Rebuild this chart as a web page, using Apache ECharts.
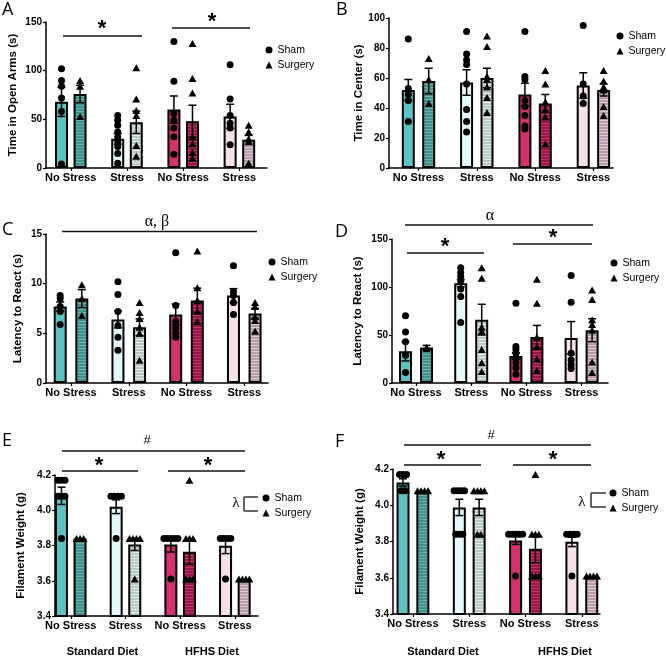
<!DOCTYPE html>
<html lang="en">
<head>
<meta charset="UTF-8">
<title>Behaviour panels</title>
<script src="https://cdn.jsdelivr.net/npm/echarts@6/dist/echarts.min.js"></script>
<style>
  html, body { margin: 0; background: #fff; }
  #main { width: 666px; height: 657px; }
</style>
</head>
<body>
<div id="main"></div>
<script>
// categories
var groups = ['No Stress', 'Stress', 'No Stress', 'Stress'];
var diets = ['Standard Diet', 'HFHS Diet'];
// bar order: NS sham, NS surgery, S sham, S surgery (standard), then same for HFHS

// A - time in open arms
var openArmsMean = [68, 76, 30, 47, 60, 48, 53, 29];
var openArmsSem = [15, 9, 5.5, 11.5, 14, 16.5, 12.5, 4.5];
var openArmsPts = [
  [102, 90, 84, 72, 58, 4], [90, 84, 53],
  [54, 49, 44, 37, 32, 27, 22, 15, 5], [103, 71, 59, 54, 23, 12],
  [130, 89, 56, 49, 41, 32, 14], [128, 92, 77, 32, 25, 16, 10],
  [106, 71, 54, 46, 41, 24], [44, 37, 30, 27, 5]
];

// B - time in center
var centerMean = [52, 58, 57, 60, 49, 43, 55, 52];
var centerSem = [7, 8.5, 8.5, 6.5, 7.5, 6, 8.5, 4];
var centerPts = [
  [86, 53, 49, 45, 31], [73, 59, 43],
  [91, 76, 72, 69, 56, 39, 31, 24], [88, 81, 61, 59, 54, 47, 37],
  [91, 61, 59, 45, 41, 35, 28, 26], [65, 56, 44, 39, 34, 16],
  [95, 56, 48, 43], [65, 58, 54, 52, 41, 35]
];

// C - latency to react
var latencyCMean = [7.7, 8.5, 6.4, 5.6, 6.9, 8.3, 8.8, 7.0];
var latencyCSem = [0.45, 0.9, 0.85, 0.85, 1.05, 1.25, 0.7, 0.5];
var latencyCPts = [
  [8.8, 8.5, 7.7, 7.2, 5.9], [9.9, 8.5, 6.8],
  [10.2, 8.9, 7.2, 5.8, 4.6, 3.3], [8.1, 7.1, 6.5, 5.6, 5.0, 2.3],
  [13.1, 7.8, 6.2, 5.5, 5.0, 4.6], [13.3, 9.6, 8.3, 7.2, 6.2],
  [11.8, 9.2, 8.8, 8.1, 6.9], [8.1, 7.7, 6.7, 6.3, 5.2]
];

// D - latency to react
var latencyDMean = [33, 37, 104, 66, 28, 48, 47, 55];
var latencyDSem = [10, 2.2, 3.8, 16, 3.5, 12, 17, 12];
var latencyDPts = [
  [70, 53, 43, 29, 11], [37, 36],
  [120, 115, 111, 106, 98, 90, 63], [120, 109, 58, 54, 35, 21, 12],
  [83, 38, 35, 31, 26, 21, 16, 9], [108, 83, 48, 38, 25, 13],
  [112, 84, 31, 24, 19, 15], [97, 87, 66, 61, 55, 22, 11]
];

// E - filament weight
var filamentEMean = [4.082, 3.84, 4.02, 3.806, 3.806, 3.764, 3.798, 3.607];
var filamentESem = [0.049, 0, 0.039, 0.034, 0.043, 0.07, 0.044, 0];
var filamentEPts = [
  [4.17, 4.17, 4.17, 4.08, 4.08, 4.08, 3.84], [3.84, 3.84, 3.84],
  [4.08, 4.08, 4.08, 4.08, 3.84], [3.84, 3.84, 3.84, 3.84, 3.61],
  [3.84, 3.84, 3.84, 3.84, 3.84, 3.61], [4.17, 3.84, 3.84, 3.84, 3.61, 3.61, 3.61],
  [3.84, 3.84, 3.84, 3.84, 3.61], [3.61, 3.61, 3.61, 3.61]
];

// F - filament weight
var filamentFMean = [4.126, 4.077, 3.988, 3.988, 3.806, 3.76, 3.798, 3.61];
var filamentFSem = [0.02, 0, 0.045, 0.045, 0.022, 0.077, 0.026, 0];
var filamentFPts = [
  [4.17, 4.17, 4.17, 4.08, 4.08], [4.08, 4.08, 4.08, 4.08],
  [4.08, 4.08, 4.08, 4.08, 3.84, 3.84, 3.84], [4.08, 4.08, 4.08, 4.08, 3.84, 3.84],
  [3.84, 3.84, 3.84, 3.84, 3.84, 3.61], [4.17, 3.84, 3.84, 3.84, 3.61, 3.61, 3.61],
  [3.84, 3.84, 3.84, 3.84, 3.61], [3.61, 3.61, 3.61, 3.61]
];

var FONT = '"Liberation Sans", Arial, sans-serif';
var shamFill = ['#5cc3c3', '#e4fafa', '#d2336f', '#f6e1ea'];
var surgBase = ['#3f918d', '#b5c8c5', '#9c1349', '#b89cab'];
var surgLine = ['#6cb3ae', '#e2ecea', '#bf3a6d', '#dccbd4'];

// horizontal-stripe fill for the surgery bars
function stripes(base, lineCol) {
  var c = document.createElement('canvas');
  c.width = 4; c.height = 3;
  var ctx = c.getContext('2d');
  ctx.fillStyle = base; ctx.fillRect(0, 0, 4, 3);
  ctx.fillStyle = lineCol; ctx.fillRect(0, 0, 4, 1);
  return {image: c, repeat: 'repeat'};
}

var panels = [
  {mean: openArmsMean, sem: openArmsSem, pts: openArmsPts, name: 'Time in Open Arms (s)',
   left: 46, top: 22, width: 221, height: 146, xmin: -0.276, xmax: 3.656, off: 0.33,
   ymin: 0, ymax: 150, step: 50, dec: 0, gap: 27, legend: [265.5, 44]},
  {mean: centerMean, sem: centerSem, pts: centerPts, name: 'Time in Center (s)',
   left: 389, top: 18, width: 224, height: 150, xmin: -0.331, xmax: 3.511, off: 0.35,
   ymin: 0, ymax: 100, step: 20, dec: 0, gap: 23, legend: [616.5, 30]},
  {mean: latencyCMean, sem: latencyCSem, pts: latencyCPts, name: 'Latency to React (s)',
   left: 46, top: 234, width: 222, height: 149, xmin: -0.246, xmax: 3.598, off: 0.374,
   ymin: 0, ymax: 15, step: 5, dec: 0, gap: 22, legend: [268.5, 256]},
  {mean: latencyDMean, sem: latencyDSem, pts: latencyDPts, name: 'Latency to React (s)',
   left: 392, top: 239, width: 216, height: 144, xmin: -0.245, xmax: 3.668, off: 0.38,
   ymin: 0, ymax: 150, step: 50, dec: 0, gap: 28, legend: [610.5, 257]},
  {mean: filamentEMean, sem: filamentESem, pts: filamentEPts, name: 'Filament Weight (g)',
   left: 55, top: 475, width: 203, height: 141, xmin: -0.118, xmax: 3.593, off: 0.34,
   ymin: 3.4, ymax: 4.2, step: 0.2, dec: 1, gap: 28, legend: [262.5, 492]},
  {mean: filamentFMean, sem: filamentFSem, pts: filamentFPts, name: 'Filament Weight (g)',
   left: 393, top: 469, width: 207, height: 145, xmin: -0.178, xmax: 3.499, off: 0.352,
   ymin: 3.4, ymax: 4.2, step: 0.2, dec: 1, gap: 27, legend: [609.5, 487]}
];

function renderErr(params, api) {
  var x = api.value(0);
  var lo = api.coord([x, api.value(1)]);
  var hi = api.coord([x, api.value(2)]);
  var w = 4;
  var st = {stroke: '#000', lineWidth: 1.5};
  return {type: 'group', children: [
    {type: 'line', shape: {x1: lo[0], y1: lo[1], x2: hi[0], y2: hi[1]}, style: st},
    {type: 'line', shape: {x1: hi[0] - w, y1: hi[1], x2: hi[0] + w, y2: hi[1]}, style: st},
    {type: 'line', shape: {x1: lo[0] - w, y1: lo[1], x2: lo[0] + w, y2: lo[1]}, style: st}
  ]};
}

var grids = [], xAxes = [], yAxes = [], series = [], legends = [];

panels.forEach(function (p, i) {
  var labs = groups.map(function (_, g) { return g + p.off / 2; });
  grids.push({left: p.left, top: p.top, width: p.width, height: p.height, outerBoundsMode: 'none'});
  xAxes.push({
    gridIndex: i, type: 'value', min: p.xmin, max: p.xmax, splitLine: {show: false},
    axisLine: {show: true, onZero: false, lineStyle: {color: '#000', width: 1.5}},
    axisTick: {show: true, customValues: labs, length: 3, lineStyle: {color: '#000', width: 1.2}},
    axisLabel: {
      customValues: labs, margin: 4, color: '#000', fontWeight: 'bold', fontSize: 11, fontFamily: FONT,
      formatter: function (v) { return groups[Math.round(v - p.off / 2)]; }
    }
  });
  yAxes.push({
    gridIndex: i, type: 'value', min: p.ymin, max: p.ymax, interval: p.step,
    name: p.name, nameLocation: 'middle', nameGap: p.gap,
    nameTextStyle: {color: '#000', fontWeight: 'bold', fontSize: 11.5, fontFamily: FONT},
    splitLine: {show: false},
    axisLine: {show: true, onZero: false, lineStyle: {color: '#000', width: 1.5}},
    axisTick: {show: true, length: 3, lineStyle: {color: '#000', width: 1.2}},
    axisLabel: {
      margin: 4, color: '#000', fontWeight: 'bold', fontSize: 10, fontFamily: FONT,
      formatter: function (v) { return v.toFixed(p.dec); }
    }
  });

  // bars
  series.push({
    type: 'bar', xAxisIndex: i, yAxisIndex: i, barWidth: 13, z: 2, silent: true,
    itemStyle: {borderColor: '#000', borderWidth: 2},
    data: p.mean.map(function (m, b) {
      var g = b >> 1, s = b & 1;
      return {
        value: [g + s * p.off, m],
        itemStyle: {color: s ? stripes(surgBase[g], surgLine[g]) : shamFill[g]}
      };
    })
  });

  // error bars
  var errData = [];
  p.mean.forEach(function (m, b) {
    if (p.sem[b] > 0) {
      var g = b >> 1, s = b & 1;
      errData.push([g + s * p.off, m - p.sem[b], m + p.sem[b]]);
    }
  });
  series.push({type: 'custom', xAxisIndex: i, yAxisIndex: i, z: 3, silent: true,
    renderItem: renderErr, data: errData});

  // individual points
  ['Sham', 'Surgery'].forEach(function (nm, s) {
    var data = [];
    for (var g = 0; g < 4; g++) {
      var pts = p.pts[2 * g + s];
      var seen = {};
      pts.forEach(function (v) {
        var n = pts.filter(function (u) { return u === v; }).length;
        var k = seen[v] || 0;
        seen[v] = k + 1;
        data.push({value: [g + s * p.off, v], symbolOffset: [(k - (n - 1) / 2) * 3.5, 0]});
      });
    }
    series.push({
      type: 'scatter', name: nm, xAxisIndex: i, yAxisIndex: i, z: 4, silent: true,
      symbol: s ? 'triangle' : 'circle', symbolSize: s ? [8, 7] : 7,
      itemStyle: {color: '#000', opacity: 1}, data: data
    });
  });

  legends.push({
    left: p.legend[0], top: p.legend[1], orient: 'vertical', padding: 0,
    itemWidth: 7, itemHeight: 7, itemGap: 3, selectedMode: false,
    textStyle: {color: '#000', fontSize: 10.5, lineHeight: 12, fontFamily: FONT},
    data: [{name: 'Sham', icon: 'circle'}, {name: 'Surgery', icon: 'triangle'}]
  });
});

// annotations
var graphics = [];
function line(x1, y1, x2, y2) {
  graphics.push({type: 'line', silent: true, shape: {x1: x1, y1: y1, x2: x2, y2: y2},
    style: {stroke: '#111', lineWidth: 1.3}});
}
function text(t, x, y, font, align) {
  graphics.push({type: 'text', silent: true, x: x, y: y,
    style: {text: t, font: font, fill: '#000', align: align || 'center', verticalAlign: 'middle'}});
}
var letterFont = '18px "Open Sans", sans-serif';
[['A', 2, 10], ['B', 336, 10], ['C', 2, 230], ['D', 335, 232], ['E', 2, 441], ['F', 335, 442]]
  .forEach(function (l) { text(l[0], l[1], l[2], letterFont, 'left'); });

[[63, 36, 142, 36], [172, 28, 250, 28], [62, 231.5, 257, 231.5],
 [405, 225, 593, 225], [407, 253, 484, 253], [513, 244, 592, 244],
 [62, 451, 245, 451], [62, 471, 138, 471], [168, 471, 245, 471],
 [404, 445, 591, 445], [404, 465, 481, 465], [513, 465, 591, 465]]
  .forEach(function (l) { line(l[0], l[1], l[2], l[3]); });

var starFont = 'bold 22px ' + FONT;
[[102, 24], [212, 17], [445, 242], [553, 233], [99, 461], [208, 461], [441, 455], [553, 455]]
  .forEach(function (s) { text('*', s[0], s[1] + 5, starFont); });

var serif = '"Liberation Serif", "DejaVu Serif", serif';
text('α, β', 157, 222, '16px ' + serif);
text('α', 490, 216, '16px ' + serif);
text('#', 147, 440, '13px ' + FONT);
text('#', 491, 435, '13px ' + FONT);
text('λ', 236, 503, '15px ' + serif);
text('λ', 582, 502, '15px ' + serif);

// lambda brackets
line(244, 497, 244, 511); line(244, 497, 258, 497); line(244, 511, 258, 511);
line(591, 493, 591, 507); line(591, 493, 606, 493); line(591, 507, 606, 507);

var dietFont = 'bold 11px ' + FONT;
text(diets[0], 102.5, 652, dietFont);
text(diets[1], 212, 652, dietFont);
text(diets[0], 443, 652, dietFont);
text(diets[1], 565, 652, dietFont);

var chart = echarts.init(document.getElementById('main'));
chart.setOption({
  animation: false,
  backgroundColor: '#fff',
  grid: grids,
  xAxis: xAxes,
  yAxis: yAxes,
  legend: legends,
  series: series,
  graphic: graphics
});
</script>
</body>
</html>
